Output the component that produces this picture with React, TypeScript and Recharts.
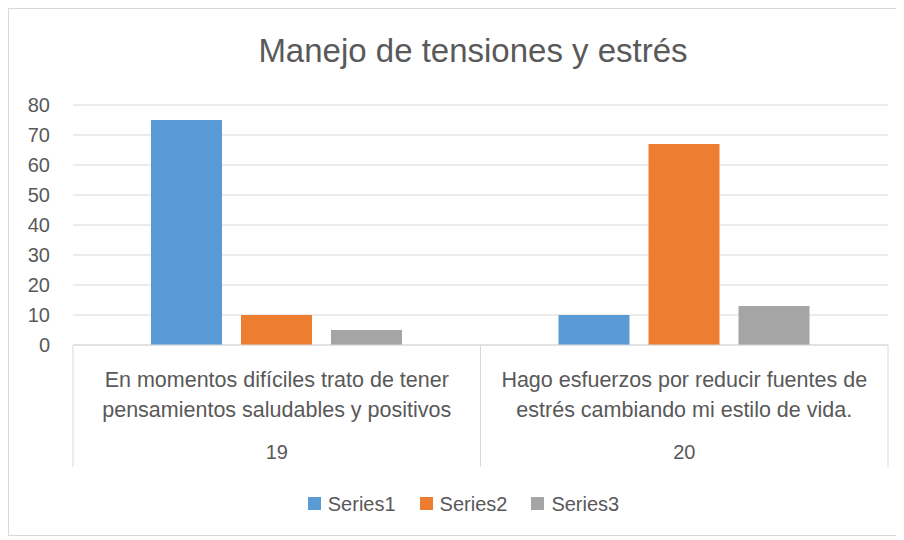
import { BarChart, Bar, XAxis, YAxis, CartesianGrid, Legend } from 'recharts';

const categories = ['19', '20'];
const categoryLines = [
  ['En momentos difíciles trato de tener', 'pensamientos saludables y positivos'],
  ['Hago esfuerzos por reducir fuentes de', 'estrés cambiando mi estilo de vida.'],
];
const series1 = [75, 10];
const series2 = [10, 67];
const series3 = [5, 13];
const yTicks = [0, 10, 20, 30, 40, 50, 60, 70, 80];

const seriesInfo = [
  { key: 'Series1', color: '#5B9BD5' },
  { key: 'Series2', color: '#ED7D31' },
  { key: 'Series3', color: '#A5A5A5' },
];

const data = categories.map((c, i) => ({
  code: c,
  lines: categoryLines[i],
  Series1: series1[i],
  Series2: series2[i],
  Series3: series3[i],
}));

const CHART_W = 888;
const CHART_H = 526;
const MARGIN = { top: 96, right: 9, left: 0, bottom: 17 };
const Y_W = 64;
const X_H = 122;
const BAND = (CHART_W - MARGIN.left - MARGIN.right - Y_W) / categories.length;
const TEXT = '#595959';
const LINE = '#d9d9d9';
const FONT = '"Liberation Sans", Arial, sans-serif';

function CategoryTick(props: any) {
  const { x, y, index } = props;
  const row = data[index];
  const left = x - BAND / 2;
  const right = x + BAND / 2;
  return (
    <g>
      <line x1={left} y1={y} x2={left} y2={y + X_H} stroke={LINE} />
      {index === data.length - 1 && <line x1={right} y1={y} x2={right} y2={y + X_H} stroke={LINE} />}
      <text x={x} y={y + 42} textAnchor="middle" fill={TEXT} fontSize={21.5} fontFamily={FONT}>
        {row.lines[0]}
      </text>
      <text x={x} y={y + 72} textAnchor="middle" fill={TEXT} fontSize={21.5} fontFamily={FONT}>
        {row.lines[1]}
      </text>
      <text x={x} y={y + 114} textAnchor="middle" fill={TEXT} fontSize={20} fontFamily={FONT}>
        {row.code}
      </text>
    </g>
  );
}

function LegendContent() {
  return (
    <div
      style={{
        height: 51,
        boxSizing: 'border-box',
        paddingTop: 22,
        paddingLeft: 30,
        display: 'flex',
        justifyContent: 'center',
        fontFamily: FONT,
        fontSize: 20,
        color: TEXT,
      }}
    >
      {seriesInfo.map((s) => (
        <div key={s.key} style={{ display: 'flex', alignItems: 'center', margin: '0 12px', lineHeight: '26px' }}>
          <span style={{ width: 13, height: 13, background: s.color, display: 'inline-block', marginRight: 7 }} />
          {s.key}
        </div>
      ))}
    </div>
  );
}

export default function App() {
  return (
    <div
      style={{
        position: 'relative',
        width: 890,
        height: 528,
        border: `1px solid ${LINE}`,
        boxSizing: 'border-box',
        background: '#fff',
      }}
    >
      <div
        style={{
          position: 'absolute',
          top: 22,
          left: 20,
          width: CHART_W,
          textAlign: 'center',
          fontFamily: FONT,
          fontSize: 33,
          color: TEXT,
          lineHeight: '40px',
        }}
      >
        Manejo de tensiones y estrés
      </div>
      <BarChart width={CHART_W} height={CHART_H} data={data} margin={MARGIN} barSize={71} barGap={19}>
        <CartesianGrid vertical={false} stroke={LINE} />
        <XAxis
          dataKey="code"
          height={X_H}
          stroke={LINE}
          tickLine={false}
          tickSize={0}
          tickMargin={0}
          interval={0}
          tick={<CategoryTick />}
        />
        <YAxis
          width={Y_W}
          domain={[0, 80]}
          ticks={yTicks}
          axisLine={false}
          tickLine={false}
          tickSize={0}
          tickMargin={23}
          tick={{ fill: TEXT, fontSize: 20, fontFamily: FONT }}
        />
        <Legend verticalAlign="bottom" height={51} content={<LegendContent />} />
        {seriesInfo.map((s) => (
          <Bar key={s.key} dataKey={s.key} fill={s.color} isAnimationActive={false} />
        ))}
      </BarChart>
    </div>
  );
}
